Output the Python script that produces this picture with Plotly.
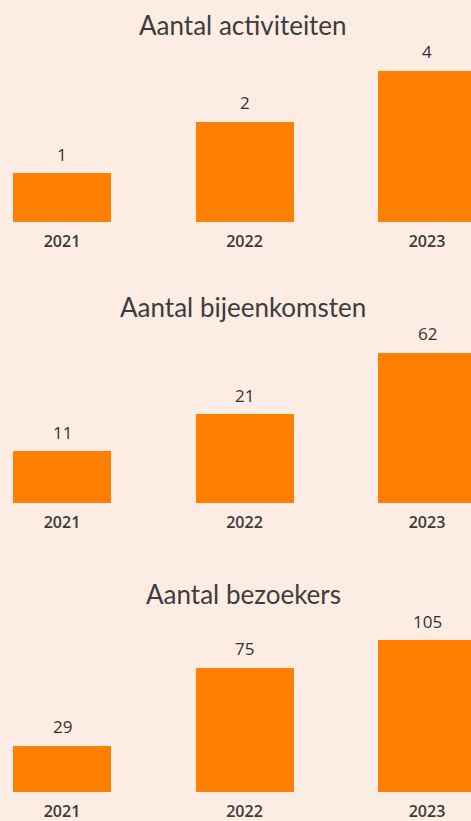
import math
import plotly.graph_objects as go

years = ["2021", "2022", "2023"]
titles = ["Aantal activiteiten", "Aantal bijeenkomsten", "Aantal bezoekers"]
activiteiten = [1, 2, 4]
bijeenkomsten = [11, 21, 62]
bezoekers = [29, 75, 105]
series = [activiteiten, bijeenkomsten, bezoekers]

BG = "#fcece3"
ORANGE = "#ff8000"
W, H = 471, 821

# layout (pixel-based) for each panel: bar baseline, y log range, title y
panels = [
    dict(base=222, rng=(-0.289, 0.655), title_y=25),
    dict(base=503, rng=(0.6445, 1.866), title_y=307),
    dict(base=792, rng=(1.218, 2.065), title_y=594),
]
PANEL_H = 160

fig = go.Figure()
xpos = [0, 1, 2]
x_range = [-62 / 182.5, (W - 62) / 182.5]

for i, (vals, p) in enumerate(zip(series, panels)):
    suffix = "" if i == 0 else str(i + 1)
    fig.add_trace(go.Bar(
        x=xpos, y=vals,
        marker=dict(color=ORANGE, line=dict(width=0)),
        width=98 / 182.5,
        xaxis="x" + suffix, yaxis="y" + suffix,
        hoverinfo="skip",
    ))
    # value labels above the bars
    for xv, v in zip(xpos, vals):
        fig.add_annotation(
            x=xv, y=math.log10(v), xref="x" + suffix, yref="y" + suffix,
            text=str(v), showarrow=False, yanchor="middle", yshift=19,
            font=dict(family="Open Sans", size=17, color="#333333"),
        )
    bottom = 1 - p["base"] / H
    top = 1 - (p["base"] - PANEL_H) / H
    fig.layout["xaxis" + suffix] = dict(
        domain=[0, 1], range=x_range, anchor="y" + suffix,
        tickvals=xpos, ticktext=years, showgrid=False, zeroline=False,
        showline=False, ticks="outside", ticklen=5, tickcolor="rgba(0,0,0,0)",
        tickfont=dict(family="Open Sans", size=16, color="#3a3a3a", weight=600),
        fixedrange=True,
    )
    fig.layout["yaxis" + suffix] = dict(
        domain=[bottom, top], type="log", range=list(p["rng"]),
        anchor="x" + suffix, showgrid=False, zeroline=False, showline=False,
        showticklabels=False, ticks="", fixedrange=True,
    )
    fig.add_annotation(
        text=titles[i], x=243 / W, y=1 - p["title_y"] / H,
        xref="paper", yref="paper", xanchor="center", yanchor="middle",
        showarrow=False, font=dict(family="Lato", size=26, color="#3d3d3d"),
    )

fig.update_layout(
    width=W, height=H, margin=dict(l=0, r=0, t=0, b=0),
    paper_bgcolor=BG, plot_bgcolor=BG, showlegend=False,
    bargap=0,
)
fig.write_html("out.html", config={"displayModeBar": False})

# remove the default page margin so the figure fills the window
with open("out.html", encoding="utf-8") as f:
    html = f.read()
html = html.replace("<body>", '<body style="margin:0;background:%s">' % BG, 1)
with open("out.html", "w", encoding="utf-8") as f:
    f.write(html)
